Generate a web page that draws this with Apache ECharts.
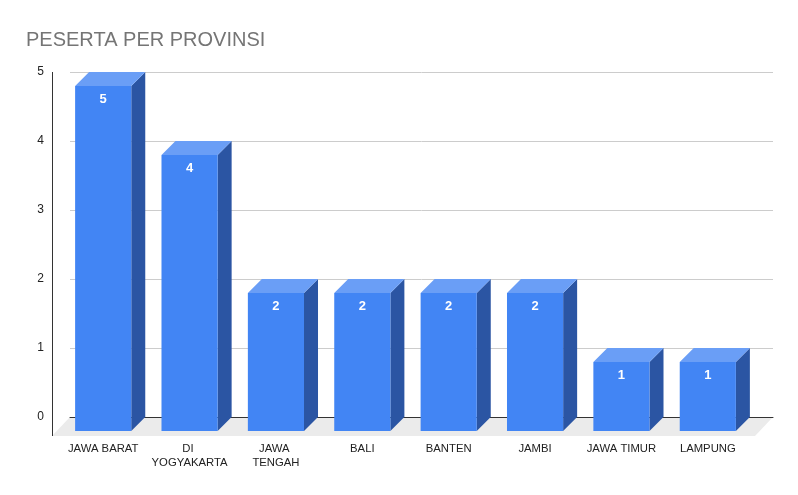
<!DOCTYPE html>
<html lang="en">
<head>
    <meta charset="UTF-8">
    <script src="https://cdn.jsdelivr.net/npm/echarts@6/dist/echarts.min.js"></script>
    <style>
        body, html {
            margin: 0;
            height: 100%;
            background: #fff;
        }

        #main {
            width: 798px;
            height: 495px;
        }
    </style>
    <title>Peserta per Provinsi</title>
</head>
<body>

<div id="main"></div>
<script type="text/javascript">
    const myChart = echarts.init(document.getElementById('main'));

    // data
    const provinces = ['JAWA BARAT', 'DI YOGYAKARTA', 'JAWA TENGAH', 'BALI', 'BANTEN', 'JAMBI', 'JAWA TIMUR', 'LAMPUNG'];
    const peserta = [5, 4, 2, 2, 2, 2, 1, 1];
    const yTicks = [0, 1, 2, 3, 4, 5];

    // 3d look
    const DEPTH = 14;
    const FRONT = '#4285f4';
    const TOP = '#6a9ef6';
    const SIDE = '#2b55a3';

    function renderBar(params, api) {
        const i = api.value(0);
        const top = api.coord([i, api.value(1)]);
        const base = api.coord([i, 0]);
        const w = api.size([1, 0])[0] * 0.65;
        const x0 = top[0] - w / 2, x1 = top[0] + w / 2;
        const y1 = top[1], y0 = base[1];
        return {
            type: 'group',
            children: [
                {
                    type: 'polygon',
                    shape: {points: [[x1, y1], [x1 + DEPTH, y1 - DEPTH], [x1 + DEPTH, y0 - DEPTH], [x1, y0]]},
                    style: {fill: SIDE}
                },
                {
                    type: 'polygon',
                    shape: {points: [[x0, y1], [x1, y1], [x1 + DEPTH, y1 - DEPTH], [x0 + DEPTH, y1 - DEPTH]]},
                    style: {fill: TOP}
                },
                {
                    type: 'rect',
                    shape: {x: x0, y: y1, width: w, height: y0 - y1},
                    style: {fill: FRONT}
                },
                {
                    type: 'text',
                    style: {
                        text: String(api.value(1)),
                        x: top[0], y: y1 + 13,
                        align: 'center', verticalAlign: 'middle',
                        fill: '#fff', font: 'bold 13px "Liberation Sans", Arial, sans-serif'
                    }
                }
            ]
        };
    }

    const option = {
        animation: false,
        title: {
            text: 'PESERTA PER PROVINSI',
            left: 21,
            top: 25,
            textStyle: {
                color: '#757575',
                fontSize: 20,
                fontWeight: 'normal',
                fontFamily: '"Liberation Sans", Arial, sans-serif'
            }
        },
        graphic: [
            {   // floor
                type: 'polygon',
                z: 0,
                shape: {points: [[70, 417], [773, 417], [755, 436], [52, 436]]},
                style: {fill: '#ebebeb'}
            },
            {   // vertical axis line
                type: 'line',
                z: 5,
                shape: {x1: 52.5, y1: 72, x2: 52.5, y2: 436},
                style: {stroke: '#333', lineWidth: 1}
            }
        ],
        grid: [
            {left: 70, right: 25, top: 72, bottom: 78},
            {left: 60, right: 47, top: 86, bottom: 64}
        ],
        xAxis: [
            {
                type: 'category', gridIndex: 0, data: provinces,
                axisLine: {lineStyle: {color: '#333'}},
                axisTick: {show: false},
                axisLabel: {show: false}
            },
            {
                type: 'category', gridIndex: 1, data: provinces,
                axisLine: {show: false},
                axisTick: {show: false},
                axisLabel: {
                    interval: 0,
                    margin: 11,
                    color: '#222',
                    fontSize: 11.3,
                    lineHeight: 14,
                    width: 80,
                    overflow: 'break',
                    fontFamily: '"Liberation Sans", Arial, sans-serif'
                }
            }
        ],
        yAxis: [
            {
                type: 'value', gridIndex: 0,
                min: yTicks[0], max: yTicks[yTicks.length - 1], interval: 1,
                axisLine: {show: false},
                axisTick: {show: false},
                axisLabel: {
                    margin: 26,
                    color: '#222',
                    fontSize: 12,
                    fontFamily: '"Liberation Sans", Arial, sans-serif'
                },
                splitLine: {lineStyle: {color: '#cccccc'}}
            },
            {
                type: 'value', gridIndex: 1,
                min: yTicks[0], max: yTicks[yTicks.length - 1], interval: 1,
                show: false
            }
        ],
        series: [
            {
                type: 'custom',
                xAxisIndex: 1,
                yAxisIndex: 1,
                z: 10,
                renderItem: renderBar,
                encode: {x: 0, y: 1},
                data: peserta.map(function (v, i) {
                    return [i, v];
                })
            }
        ]
    };
    myChart.setOption(option);
</script>
</body>
</html>
